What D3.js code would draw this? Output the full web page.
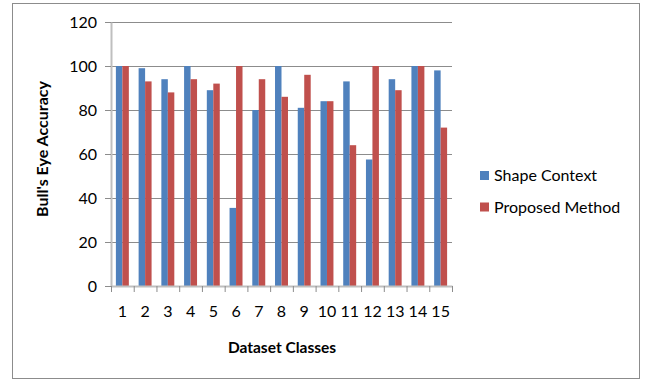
<!DOCTYPE html>
<html>
<head>
<meta charset="utf-8">
<script src="https://cdn.jsdelivr.net/npm/d3@7"></script>
<style>
  body { margin: 0; background: #fff; }
  text { font-family: Lato, "Open Sans", sans-serif; fill: #000; }
</style>
</head>
<body>
<div id="chart"></div>
<script>
// data
let classes = ["1","2","3","4","5","6","7","8","9","10","11","12","13","14","15"]
let shapeContext   = [100, 99, 94, 100, 89, 35.5, 80, 100, 81, 84, 93, 57.5, 94, 100, 98]
let proposedMethod = [100, 93, 88, 94, 92, 100, 94, 86, 96, 84, 64, 100, 89, 100, 72]
let seriesNames = ["Shape Context", "Proposed Method"]
let yTicks = [0, 20, 40, 60, 80, 100, 120]

let colors = ["#4F81BD", "#C0504D"]

let W = 646, H = 380
let plot = {left: 111, right: 452, top: 22, bottom: 286}

let svg = d3.select("#chart").append("svg")
    .attr("width", W)
    .attr("height", H)

// outer chart border
svg.append("rect")
    .attr("x", 12.5).attr("y", 3.5)
    .attr("width", 627).attr("height", 375)
    .attr("fill", "#fff")
    .attr("stroke", "#8c8c8c")

let rows = classes.map((c, i) => ({cls: c, values: [shapeContext[i], proposedMethod[i]]}))

let x0 = d3.scaleBand()
    .domain(classes)
    .range([plot.left, plot.right])
    .paddingInner(0.43)
    .paddingOuter(0.215)

let x1 = d3.scaleBand()
    .domain([0, 1])
    .range([0, x0.bandwidth()])

let y = d3.scaleLinear()
    .domain([0, 120])
    .range([plot.bottom, plot.top])

// gridlines
svg.append("g")
    .selectAll("line")
    .data(yTicks.filter(t => t > 0))
    .join("line")
    .attr("x1", plot.left).attr("x2", plot.right)
    .attr("y1", d => Math.round(y(d)) + 0.5)
    .attr("y2", d => Math.round(y(d)) + 0.5)
    .attr("stroke", "#8c8c8c")

// bars
svg.append("g")
    .selectAll("g")
    .data(rows)
    .join("g")
    .attr("transform", d => "translate(" + x0(d.cls) + ",0)")
    .selectAll("rect")
    .data(d => d.values.map((v, k) => ({k: k, v: v})))
    .join("rect")
    .attr("x", d => x1(d.k))
    .attr("width", x1.bandwidth())
    .attr("y", d => y(d.v))
    .attr("height", d => y(0) - y(d.v))
    .attr("fill", d => colors[d.k])

// y axis
let yAxis = svg.append("g")
    .attr("transform", "translate(" + plot.left + ",0)")
    .call(d3.axisLeft(y).tickValues(yTicks).tickSize(6).tickSizeOuter(0).tickPadding(8))
yAxis.select(".domain").attr("stroke", "#bfbfbf").attr("stroke-width", 2)
yAxis.selectAll(".tick line").attr("stroke", "#8c8c8c")
yAxis.selectAll("text").style("font-size", "16px").attr("fill", "#000")

// x axis: boundary ticks and centred labels
let xb = d3.scaleLinear().domain([0, classes.length]).range([plot.left, plot.right])
let xTicks = svg.append("g")
    .attr("transform", "translate(0," + plot.bottom + ")")
    .call(d3.axisBottom(xb).tickValues(d3.range(classes.length + 1)).tickFormat("").tickSize(6).tickSizeOuter(0))
xTicks.select(".domain").attr("stroke", "#bfbfbf").attr("stroke-width", 2)
xTicks.selectAll(".tick line").attr("stroke", "#8c8c8c")

let xLabels = svg.append("g")
    .attr("transform", "translate(0," + plot.bottom + ")")
    .call(d3.axisBottom(x0).tickSize(0).tickPadding(20))
xLabels.select(".domain").remove()
xLabels.selectAll("text").style("font-size", "16px").attr("fill", "#000")

// axis titles
svg.append("text")
    .attr("x", 282).attr("y", 353)
    .attr("text-anchor", "middle")
    .style("font-size", "15.5px").style("font-weight", "bold")
    .text("Dataset Classes")

svg.append("text")
    .attr("transform", "translate(48,149) rotate(-90)")
    .attr("text-anchor", "middle")
    .style("font-size", "16px").style("font-weight", "bold")
    .text("Bull's Eye Accuracy")

// legend
let legend = svg.append("g")
    .selectAll("g")
    .data(seriesNames)
    .join("g")
    .attr("transform", (d, i) => "translate(480," + (171 + i * 31.5) + ")")
legend.append("rect")
    .attr("width", 9).attr("height", 9)
    .attr("fill", (d, i) => colors[i])
legend.append("text")
    .attr("x", 14).attr("y", 4.5)
    .attr("dy", "0.35em")
    .style("font-size", "16px")
    .text(d => d)
</script>
</body>
</html>
